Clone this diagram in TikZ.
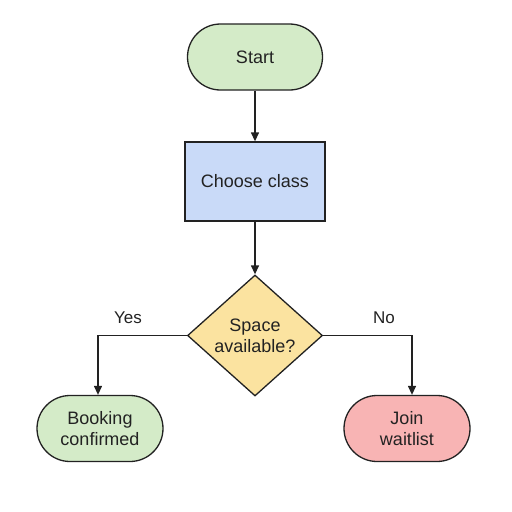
\documentclass[tikz,border=0pt]{standalone}
\usepackage{fontspec}
\setmainfont{Liberation Sans}
\usetikzlibrary{shapes.geometric,shapes.misc,arrows.meta}
\definecolor{gfill}{HTML}{D4EBC8}
\definecolor{bfill}{HTML}{C9DAF8}
\definecolor{yfill}{HTML}{FBE3A0}
\definecolor{pfill}{HTML}{F8B4B4}
\definecolor{edge}{HTML}{222222}
\tikzset{
  base/.style={draw=edge, line width=1.3pt, text=edge, font=\fontsize{18}{21}\selectfont, align=center, inner sep=0pt},
  term/.style={base, rounded rectangle, minimum width=#1, minimum height=66pt},
  procbox/.style={base, rectangle, minimum width=140pt, minimum height=79pt},
  decis/.style={base, diamond, minimum width=135pt, minimum height=121pt},
  conn/.style={draw=edge, line width=1.3pt, -{Triangle[length=9pt,width=8pt]}},
  lbl/.style={font=\fontsize{17}{20}\selectfont, text=edge},
}
\begin{document}
\begin{tikzpicture}[x=1pt,y=-1pt]
\useasboundingbox (0,0) rectangle (512,512);
\node[term=135pt, fill=gfill] (start) at (255,57) {Start};
\node[procbox, fill=bfill] (choose) at (255,181.5) {Choose class};
\node[decis, fill=yfill, aspect=1.1] (space) at (255,335.5) {Space\\available?};
\node[term=126pt, fill=gfill] (book) at (100,428.5) {Booking\\confirmed};
\node[term=126pt, fill=pfill] (join) at (407,428.5) {Join\\waitlist};
\coordinate (yc) at (98,335.5);
\coordinate (nc) at (412,335.5);
\draw[conn] (start.south) -- (choose.north);
\draw[conn] (choose.south) -- (space.north);
\draw[conn] (space.west) -- (yc) -- (book.north -| yc);
\draw[conn] (space.east) -- (nc) -- (join.north -| nc);
\node[lbl] (yes) at (128,318) {Yes};
\node[lbl] (no) at (384,318) {No};
\end{tikzpicture}
\end{document}
